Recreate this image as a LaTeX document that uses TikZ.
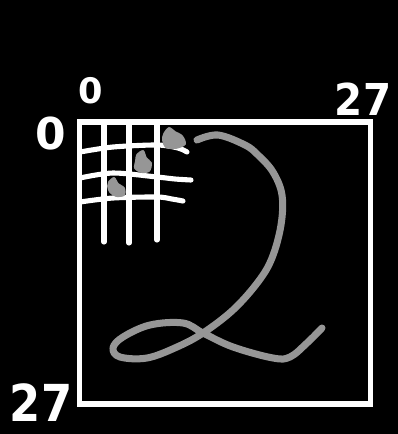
\documentclass[tikz,border=0pt]{standalone}
\usepackage{fontspec}
\setmainfont{DejaVu Sans}
\usepackage{tikz}
\definecolor{pencil}{RGB}{150,150,150}

\begin{document}
\begin{tikzpicture}[x=0.02cm,y=-0.02cm,
    chalk/.style={draw=white,line width=2.9pt,line cap=round,line join=round},
    smudge/.style={draw=pencil,line width=4pt,line cap=round,line join=round},
    blob/.style={fill=pencil,draw=pencil,line width=1pt},
    num/.style={text=white,inner sep=0pt,font=\bfseries}]
  % black board
  \fill[black] (0,0) rectangle (398,434);
  \useasboundingbox (0,0) rectangle (398,434);
  % axis labels
  \node[num,font=\bfseries\fontsize{20}{20}\selectfont] (top0) at (91,91) {0};
  \node[num,font=\bfseries\fontsize{25}{25}\selectfont] (left0) at (51,134) {0};
  \node[num,font=\bfseries\fontsize{25}{25}\selectfont,xscale=0.92] (top27) at (363,99) {27};
  \node[num,font=\bfseries\fontsize{29}{29}\selectfont,xscale=0.88] (left27) at (41,403) {27};
  % image frame
  \draw[chalk,line cap=butt,line join=miter] (79.5,122) rectangle (370.5,404);
  % pixel grid
  \foreach \x/\y in {104/242,129/243,157/240}
    \draw[chalk] (\x,123) -- (\x,\y);
  \draw[chalk] plot[smooth] coordinates {(80,152) (113,147) (157,145) (178,148) (187,152)};
  \draw[chalk] plot[smooth] coordinates {(80,178) (113,173) (157,177) (175,179) (191,180)};
  \draw[chalk] plot[smooth] coordinates {(80,202) (113,198) (157,197) (172,199) (183,201)};
  % marked pixels
  \fill[blob] plot[smooth cycle] coordinates {(164,134) (169,128) (175,132) (182,136) (185,144) (176,148) (166,147) (163,140)};
  \fill[blob] plot[smooth cycle] coordinates {(137,155) (143,151) (146,158) (151,163) (149,171) (141,172) (135,168) (136,161)};
  \fill[blob] plot[smooth cycle] coordinates {(109,182) (114,178) (118,184) (124,188) (124,195) (116,196) (110,192) (108,186)};
  % the handwritten digit
  \draw[smudge] plot[smooth,tension=0.6] coordinates {(197,140) (218,135) (245,145) (258,155) (273,172) (282,195) (281,225) (272,258) (258,282) (233,310) (203,333) (177,347) (147,358) (120,357) (113,348) (123,337) (150,325) (183,323) (203,333) (233,347) (273,358) (290,357) (307,343) (322,328)};
\end{tikzpicture}
\end{document}
